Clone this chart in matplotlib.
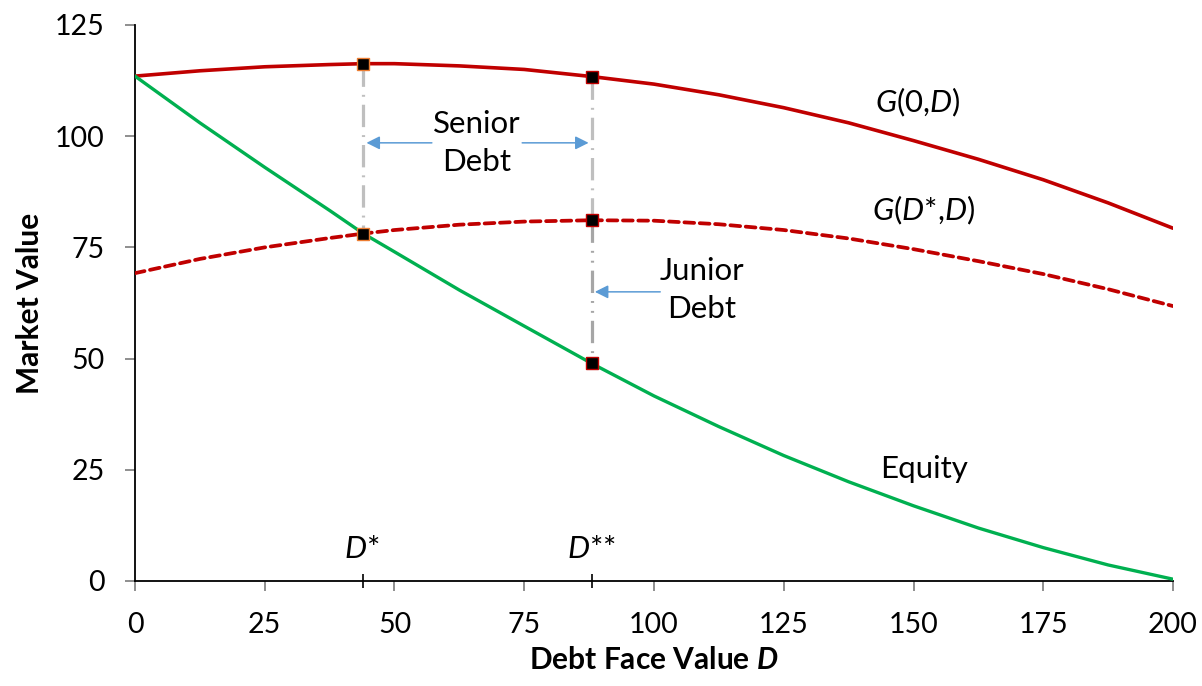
import matplotlib
matplotlib.use("Agg")
import matplotlib.pyplot as plt
import numpy as np

plt.rcParams['font.family'] = ['Lato', 'DejaVu Sans']
plt.rcParams['mathtext.fontset'] = 'custom'
plt.rcParams['mathtext.rm'] = 'Lato'
plt.rcParams['mathtext.it'] = 'Lato:italic'
plt.rcParams['mathtext.bf'] = 'Lato:bold'
plt.rcParams['mathtext.bfit'] = 'Lato:bold:italic'

# debt face value D
debt = [0, 12.5, 25, 37.5, 44, 50, 62.5, 75, 88, 100, 112.5, 125, 137.5, 150, 162.5, 175, 187.5, 200]
# G(0,D)
g_zero = [113.5, 114.7, 115.6, 116.1, 116.3, 116.3, 115.8, 115.0, 113.4, 111.7, 109.3, 106.4,
          103.0, 99.0, 94.8, 90.2, 85.0, 79.3]
# G(D*,D)
g_star = [69.2, 72.4, 75.0, 77.1, 78.1, 78.9, 80.1, 80.8, 81.1, 81.0, 80.2, 78.9,
          77.0, 74.6, 71.9, 69.0, 65.6, 61.8]
# equity
equity = [113.5, 103.0, 93.0, 83.3, 78.1, 74.0, 65.4, 57.3, 48.9, 41.6, 34.7, 28.2,
          22.3, 16.9, 11.9, 7.5, 3.6, 0.4]

d_star = 44
d_2star = 88
# marked points: (D, value)
pts_star = [116.3, 78.1]
pts_2star = [113.4, 81.1, 48.9]

fig = plt.figure(figsize=(12.02, 6.86), dpi=100)
ax = fig.add_axes([0.1123, 0.1531, 0.8636, 0.8105])

# vertical guides
ax.plot([d_star, d_star], [pts_star[0], pts_star[1]], color="#BFBFBF", lw=2.3,
        linestyle=(0, (7, 2.5, 0.6, 2.5)), zorder=2)
ax.plot([d_2star, d_2star], [pts_2star[0], pts_2star[1]], color="#BFBFBF", lw=2.3,
        linestyle=(0, (7, 2.5, 0.6, 2.5)), zorder=2)
ax.plot([d_2star, d_2star], [pts_2star[1], pts_2star[2]], color="#A6A6A6", lw=2.3,
        linestyle=(0, (7, 2.5, 0.6, 2.5, 0.6, 2.5)), zorder=2)

ax.plot(debt, g_zero, color="#C00000", lw=2.6, zorder=3, solid_capstyle='round',
        solid_joinstyle='round')
ax.plot(debt, g_star, color="#C00000", lw=2.7, zorder=3,
        linestyle=(0, (2.6, 1.5)), dash_capstyle='round')
ax.plot(debt, equity, color="#00B050", lw=2.4, zorder=3, solid_joinstyle='round')

ax.plot([d_star] * 2, pts_star, 's', color="black", markersize=8,
        markeredgecolor="#ED7D31", markeredgewidth=1, zorder=5)
ax.plot([d_2star] * 3, pts_2star, 's', color="black", markersize=8,
        markeredgecolor="#C00000", markeredgewidth=1, zorder=5)

ax.set_xlim(0, 200)
ax.set_ylim(0, 125)
ax.set_xticks(np.arange(0, 201, 25))
ax.set_yticks(np.arange(0, 126, 25))
for s in ["top", "right"]:
    ax.spines[s].set_visible(False)
for s in ["left", "bottom"]:
    ax.spines[s].set_color("black")
    ax.spines[s].set_linewidth(1.3)
ax.tick_params(axis="both", length=7, width=1.3, color="#868686", labelsize=20.5)
ax.tick_params(axis="x", pad=15)
ax.tick_params(axis="y", pad=15)

# D* and D** marks on the axis
ax.plot([d_star, d_2star], [0, 0], marker="|", linestyle="none", color="black",
        markersize=10, markeredgewidth=1.2, clip_on=False, zorder=6)

ax.set_xlabel(r"Debt Face Value $\mathbfit{D}$", fontsize=21.5, fontweight="bold", labelpad=6)
ax.set_ylabel("Market Value", fontsize=21.5, fontweight="bold", labelpad=8)

tsize = 22.5
ax.text(65.9, 98.5, "Senior\nDebt", ha="center", va="center", fontsize=tsize, linespacing=1.45)
ax.text(109.2, 65.4, "Junior\nDebt", ha="center", va="center", fontsize=tsize, linespacing=1.45)
ax.text(150.9, 107.5, "$G$(0,$D$)", ha="center", va="center", fontsize=tsize)
ax.text(152, 83.4, "$G$($D$*,$D$)", ha="center", va="center", fontsize=tsize)
ax.text(152, 25.2, "Equity", ha="center", va="center", fontsize=tsize)
ax.text(43.7, 7.2, "$D$*", ha="center", va="center", fontsize=tsize)
ax.text(88, 7.2, "$D$**", ha="center", va="center", fontsize=tsize)

arrow = dict(arrowstyle="-|>", color="#5B9BD5", lw=1.1, mutation_scale=20, shrinkA=0, shrinkB=0)
ax.annotate("", xy=(44.6, 98.5), xytext=(57.2, 98.5), arrowprops=arrow)
ax.annotate("", xy=(87.4, 98.5), xytext=(74.6, 98.5), arrowprops=arrow)
ax.annotate("", xy=(88.6, 65.0), xytext=(101.2, 65.0), arrowprops=arrow)

fig.savefig("out.png", dpi=100)
